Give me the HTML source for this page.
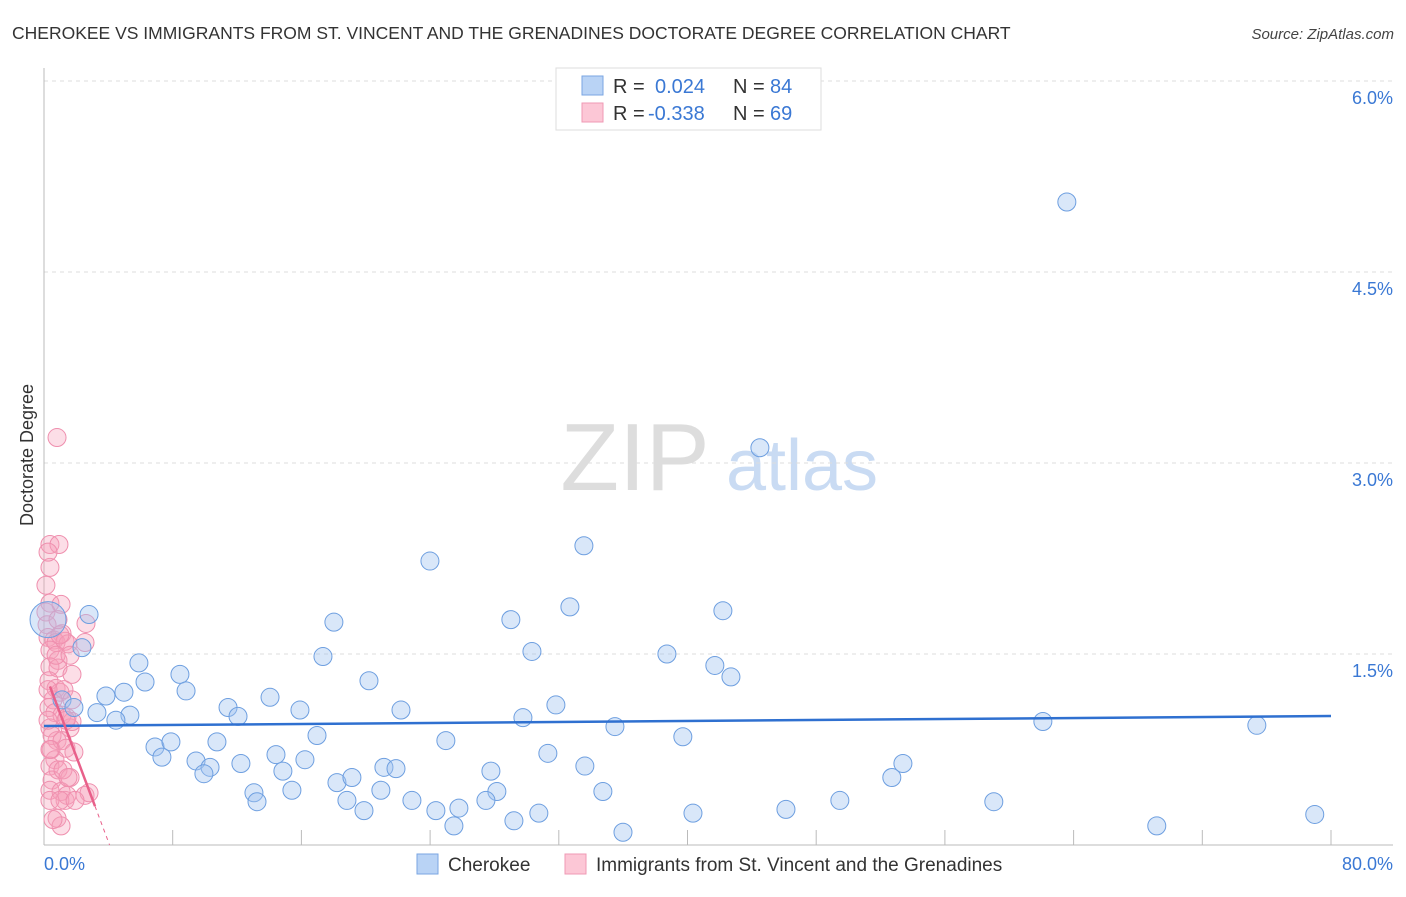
<!DOCTYPE html>
<html><head><meta charset="utf-8"><style>
body{margin:0;background:#fff;font-family:"Liberation Sans",sans-serif}
svg text{font-family:"Liberation Sans",sans-serif}
</style></head><body>
<svg id="chart" width="1406" height="892" viewBox="0 0 1406 892" xmlns="http://www.w3.org/2000/svg">
<text x="12" y="39" font-size="17.5" fill="#333">CHEROKEE VS IMMIGRANTS FROM ST. VINCENT AND THE GRENADINES DOCTORATE DEGREE CORRELATION CHART</text>
<text x="1394" y="39" font-size="15" fill="#444" font-style="italic" text-anchor="end">Source: ZipAtlas.com</text>
<g>
<text x="635" y="490" font-size="96" fill="#ddd" font-family="Liberation Serif" text-anchor="middle">ZIP</text>
<text x="802" y="490" font-size="72" fill="#c9dbf3" text-anchor="middle">atlas</text>
</g>
<g id="grid"></g>
<g id="axes"></g>
<g id="pink"></g>
<g id="blue"></g>
<g id="lines"></g>
<text transform="translate(33,455) rotate(-90)" font-size="18" fill="#333" text-anchor="middle">Doctorate Degree</text>
<g>
<rect x="556" y="68" width="265" height="62" fill="#fff" stroke="#ddd"/>
<rect x="582" y="76" width="21" height="19" fill="#b9d3f5" stroke="#7aa6e2"/>
<rect x="582" y="103" width="21" height="19" fill="#fcc7d6" stroke="#ef9ab4"/>
<text x="613" y="93" font-size="20" fill="#333">R =</text>
<text x="655" y="93" font-size="20" fill="#3a78d4">0.024</text>
<text x="733" y="93" font-size="20" fill="#333">N =</text>
<text x="770" y="93" font-size="20" fill="#3a78d4">84</text>
<text x="613" y="120" font-size="20" fill="#333">R =</text>
<text x="648" y="120" font-size="20" fill="#3a78d4">-0.338</text>
<text x="733" y="120" font-size="20" fill="#333">N =</text>
<text x="770" y="120" font-size="20" fill="#3a78d4">69</text>
</g>
<g>
<rect x="417" y="854" width="21" height="20" fill="#b9d3f5" stroke="#7aa6e2"/>
<text x="448" y="871" font-size="19" fill="#333">Cherokee</text>
<rect x="565" y="854" width="21" height="20" fill="#fcc7d6" stroke="#ef9ab4"/>
<text x="596" y="871" font-size="19" fill="#333">Immigrants from St. Vincent and the Grenadines</text>
</g>
</svg>
<script>
const yTicks=[1.5,3.0,4.5,6.0];
const yTickLabels=["1.5%","3.0%","4.5%","6.0%"];
const xTickLabels=["0.0%","80.0%"];
const blueX=[63.58,44.50,23.99,33.56,32.69,42.20,29.02,18.02,2.80,2.36,5.90,8.45,6.28,8.83,3.85,4.97,3.29,5.34,4.47,11.44,12.06,14.05,15.91,17.34,20.20,22.19,30.33,38.72,41.70,42.70,31.82,29.77,35.49,39.71,62.09,75.39,6.90,7.33,7.89,9.45,10.32,9.94,10.75,12.24,14.42,14.85,16.22,16.97,13.05,13.24,15.41,18.21,19.14,18.83,19.89,21.13,20.94,21.88,22.87,24.36,24.98,25.48,25.79,27.78,28.15,27.47,29.21,30.76,31.32,33.62,34.74,35.99,40.34,46.12,49.47,52.70,53.39,59.04,69.17,78.99,1.12,1.86,0.25];
const blueY=[5.05,3.12,2.23,2.35,1.87,1.84,1.77,1.75,1.81,1.55,1.43,1.34,1.28,1.21,1.17,1.20,1.04,1.02,0.98,1.08,1.01,1.16,1.06,1.48,1.29,1.06,1.52,1.50,1.41,1.32,1.10,1.00,0.93,0.85,0.97,0.94,0.77,0.69,0.81,0.66,0.61,0.56,0.81,0.64,0.71,0.58,0.67,0.86,0.41,0.34,0.43,0.49,0.53,0.35,0.27,0.61,0.43,0.60,0.35,0.27,0.82,0.15,0.29,0.58,0.42,0.35,0.19,0.25,0.72,0.62,0.42,0.10,0.25,0.28,0.35,0.53,0.64,0.34,0.15,0.24,1.14,1.08,1.77];
const pinkX=[0.81,0.37,0.93,0.37,0.25,0.37,1.06,0.12,0.19,1.12,0.25,0.62,0.75,2.61,1.31,0.37,0.87,1.49,0.37,0.87,1.74,0.31,0.75,0.99,0.56,1.24,0.31,0.68,1.12,0.37,0.81,1.43,1.62,0.50,0.44,1.12,1.37,0.68,1.86,0.37,0.87,1.62,0.50,1.18,0.37,1.06,1.31,1.43,2.55,2.80,1.49,0.37,0.81,1.06,0.56,1.74,1.74,0.25,0.25,2.55,0.99,0.75,1.62,0.87,0.12,0.99,1.93,1.37,0.37];
const pinkY=[3.20,2.36,2.36,2.18,2.30,1.90,1.89,1.83,1.73,1.66,1.63,1.61,1.59,1.74,1.60,1.53,1.45,1.58,1.40,1.39,1.34,1.29,1.23,1.20,1.14,1.22,1.08,1.04,1.02,0.92,0.82,1.00,0.92,0.86,0.75,0.82,0.76,0.67,0.73,0.62,0.59,0.53,0.51,0.59,0.43,0.42,0.35,0.39,0.39,0.41,0.53,0.35,0.21,0.15,0.20,1.14,0.97,0.98,1.22,1.59,1.65,1.49,1.49,1.77,2.04,0.35,0.35,0.98,0.75];
const blueTrend=[0.935,1.013];
const pinkTrend=[1.37,-0.336];
const NS="http://www.w3.org/2000/svg";
const X0=44,X1=1331,Y0=845,YPER=127.33;
function sx(v){return X0+v*(X1-X0)/80;}
function sy(v){return Y0-v*YPER;}
function mk(tag,attrs,parent){const e=document.createElementNS(NS,tag);for(const k in attrs)e.setAttribute(k,attrs[k]);parent.appendChild(e);return e;}
const grid=document.getElementById('grid'),axes=document.getElementById('axes');
yTicks.forEach((t,i)=>{
 const g=mk('line',{x1:44,x2:1393,y1:sy(t),y2:sy(t),stroke:'#ddd','stroke-dasharray':'4,4'},grid);
 
 
 const l=mk('text',{x:1393,y:sy(t)+23,'font-size':18,fill:'#3a78d4','text-anchor':'end'},axes);
 l.textContent=yTickLabels[i];
 
 
});
const ax=mk('line',{x1:44,x2:1393,y1:Y0,y2:Y0,stroke:'#bbb'},axes);


const ay=mk('line',{x1:44,x2:44,y1:68,y2:Y0,stroke:'#bbb'},axes);


for(let i=1;i<=10;i++){
 const t=mk('line',{x1:sx(i*8),x2:sx(i*8),y1:Y0-15,y2:Y0,stroke:'#bbb'},axes);
 
 
}
const xl0=mk('text',{x:44,y:870,'font-size':18,fill:'#3a78d4'},axes);xl0.textContent=xTickLabels[0];


const xl1=mk('text',{x:1393,y:870,'font-size':18,fill:'#3a78d4','text-anchor':'end'},axes);xl1.textContent=xTickLabels[1];


const pg=document.getElementById('pink'),bg=document.getElementById('blue');
pinkX.forEach((x,i)=>{
 const c=mk('circle',{cx:sx(x),cy:sy(pinkY[i]),r:9,fill:'rgba(246,160,186,0.35)',stroke:'#ef8fae','stroke-width':1},pg);
 
 
});
blueX.forEach((x,i)=>{
 const big=i===blueX.length-1;
 const c=mk('circle',{cx:sx(x),cy:sy(blueY[i]),r:big?18:9,fill:'rgba(160,196,240,0.4)',stroke:'#6e9fe0','stroke-width':1},bg);
 
 
});
const lg=document.getElementById('lines');
const bl=mk('line',{x1:sx(0),y1:sy(blueTrend[0]),x2:sx(80),y2:sy(blueTrend[1]),stroke:'#2f70d0','stroke-width':2.5},lg);


const pf=x=>pinkTrend[0]+pinkTrend[1]*x;
const xz=-pinkTrend[0]/pinkTrend[1];
const pl=mk('line',{x1:sx(0.37),y1:sy(pf(0.37)),x2:sx(3.17),y2:sy(pf(3.17)),stroke:'#e8608a','stroke-width':2.5},lg);


const pd=mk('line',{x1:sx(3.17),y1:sy(pf(3.17)),x2:sx(xz),y2:sy(0),stroke:'#e8608a','stroke-width':1,'stroke-dasharray':'4,4'},lg);


</script>
</body></html>
